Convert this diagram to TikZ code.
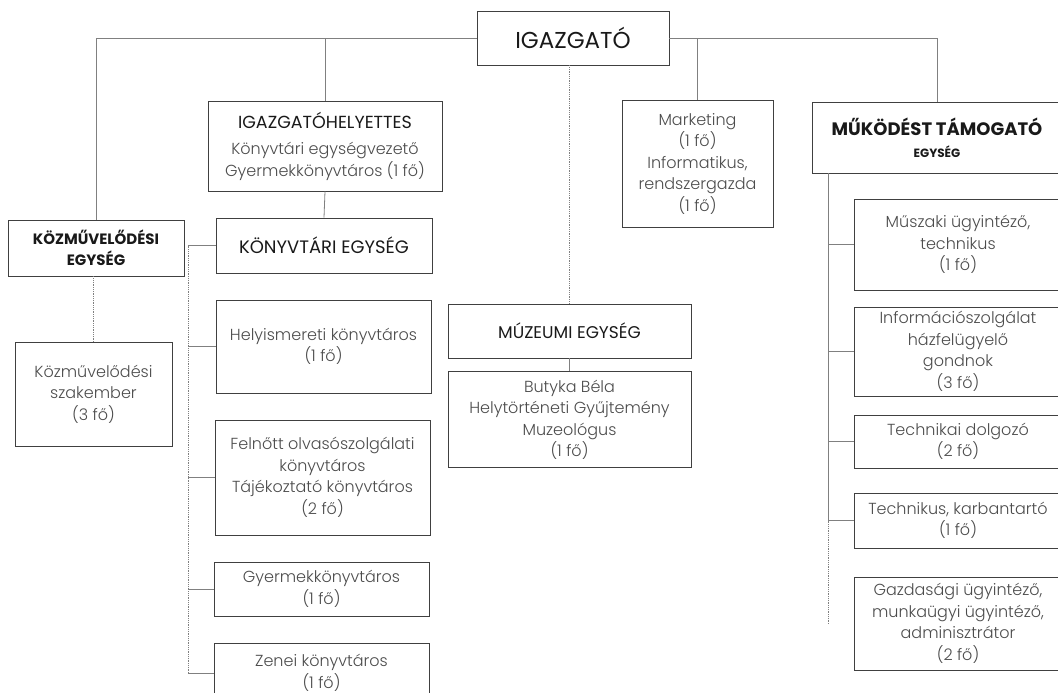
\documentclass[tikz,border=0pt]{standalone}
\usepackage{fontspec}
\setmainfont{Poppins}
\newfontfamily\lightfont{Poppins Light}
\usetikzlibrary{positioning}

\begin{document}
\begin{tikzpicture}[x=1pt, y=-1pt,
    box/.style={draw=black!75, line width=0.9pt, align=center, inner sep=0pt,
        text=black!70, font=\lightfont\fontsize{16}{21.5}\selectfont},
    head/.style={box, text=black!90, font=\normalfont\fontsize{18}{21}\selectfont},
    boldhead/.style={head, font=\normalfont\bfseries\fontsize{15}{21}\selectfont},
    link/.style={draw=black!50, line width=0.8pt}]
                \useasboundingbox (0,0) rectangle (1058,693);
                \node[head, minimum width=192pt, minimum height=54pt, font=\normalfont\fontsize{23}{24}\selectfont] (igazgato) at (573,38) {IGAZGATÓ};
                \node[box, minimum width=234pt, minimum height=90pt] (igh) at (325,146) {{\color{black!90}\normalfont\fontsize{17.5}{21}\selectfont IGAZGATÓHELYETTES}\\[5pt]Könyvtári egységvezető\\Gyermekkönyvtáros (1 fő)};
                \node[head, minimum width=216pt, minimum height=55pt] (konyvtar) at (324,245.5) {KÖNYVTÁRI EGYSÉG};
                \node[boldhead, minimum width=176pt, minimum height=56pt] (kozmuv) at (96,248) {KÖZMŰVELŐDÉSI\\EGYSÉG};
                \node[box, minimum width=157pt, minimum height=104pt] (szakember) at (93.5,394) {Közművelődési\\szakember\\(3 fő)};
                \node[box, minimum width=215pt, minimum height=93pt] (helyism) at (323.5,346.5) {Helyismereti könyvtáros\\(1 fő)};
                \node[box, minimum width=215pt, minimum height=115pt] (felnott) at (322.5,477.5) {Felnőtt olvasószolgálati\\könyvtáros\\Tájékoztató könyvtáros\\(2 fő)};
                \node[box, minimum width=215pt, minimum height=54pt] (gyermek) at (321.5,589) {Gyermekkönyvtáros\\(1 fő)};
                \node[box, minimum width=215pt, minimum height=60pt] (zenei) at (321.5,673) {Zenei könyvtáros\\(1 fő)};
                \node[head, minimum width=243pt, minimum height=54pt, font=\normalfont\fontsize{17}{21}\selectfont] (muzeum) at (569.5,331) {MÚZEUMI EGYSÉG};
                \node[box, minimum width=243pt, minimum height=96pt, below=13pt of muzeum] (butyka) {Butyka Béla\\Helytörténeti Gyűjtemény\\Muzeológus\\(1 fő)};
                \node[box, minimum width=151pt, minimum height=127pt] (marketing) at (697.5,163.5) {Marketing\\(1 fő)\\Informatikus,\\rendszergazda\\(1 fő)};
                \node[boldhead, minimum width=250pt, minimum height=71pt, font=\normalfont\bfseries\fontsize{18}{22}\selectfont] (mukodes) at (937,137.5) {MŰKÖDÉST TÁMOGATÓ\\{\fontsize{12}{14}\selectfont EGYSÉG}};
                \node[box, minimum width=208pt, minimum height=91pt] (muszaki) at (958,244.5) {Műszaki ügyintéző,\\technikus\\(1 fő)};
                \node[box, minimum width=208pt, minimum height=89pt] (info) at (958,351.5) {Információszolgálat\\házfelügyelő\\gondnok\\(3 fő)};
                \node[box, minimum width=208pt, minimum height=53pt] (technikai) at (958,441.5) {Technikai dolgozó\\(2 fő)};
                \node[box, minimum width=208pt, minimum height=55pt] (technikus) at (958,520.5) {Technikus, karbantartó\\(1 fő)};
                \node[box, minimum width=208pt, minimum height=93pt] (gazdasagi) at (958,623.5) {Gazdasági ügyintéző,\\munkaügyi ügyintéző,\\adminisztrátor\\(2 fő)};
                \coordinate (lib) at (188,245.5);
                \coordinate[xshift=17pt] (ops) at (mukodes.south west);
                \coordinate (opsend) at (ops |- gazdasagi.center);
                \draw[link] (igazgato.west) -| (kozmuv.north);
                \draw[link] (igh.north) -- (igh.north |- igazgato.west);
                \draw[link] (igazgato.east) -| (mukodes.north);
                \draw[link] (marketing.north) -- (marketing.north |- igazgato.east);
                \draw[link, densely dotted] (muzeum.north) -- (muzeum.north |- igazgato.south);
                \draw[link] (igh.south) -- (konyvtar.north);
                \draw[link] (muzeum.south) -- (butyka.north);
                \draw[link, densely dotted] (kozmuv.south -| szakember.north) -- (szakember.north);
                \draw[link] (konyvtar.west) -- (lib);
                \draw[link, densely dotted] (lib) -- (lib |- zenei.west);
                \draw[link] (helyism.west) -- (helyism.west -| lib);
                \draw[link] (felnott.west) -- (felnott.west -| lib);
                \draw[link] (gyermek.west) -- (gyermek.west -| lib);
                \draw[link] (zenei.west) -- (zenei.west -| lib);
                \draw[link] (ops) -- (ops |- technikus.west);
                \draw[link, densely dotted] (ops |- technikus.west) -- (opsend);
                \draw[link] (muszaki.west) -- (muszaki.west -| ops);
                \draw[link] (info.west) -- (info.west -| ops);
                \draw[link] (technikai.west) -- (technikai.west -| ops);
                \draw[link] (technikus.west) -- (technikus.west -| ops);
            \end{tikzpicture}
\end{document}
